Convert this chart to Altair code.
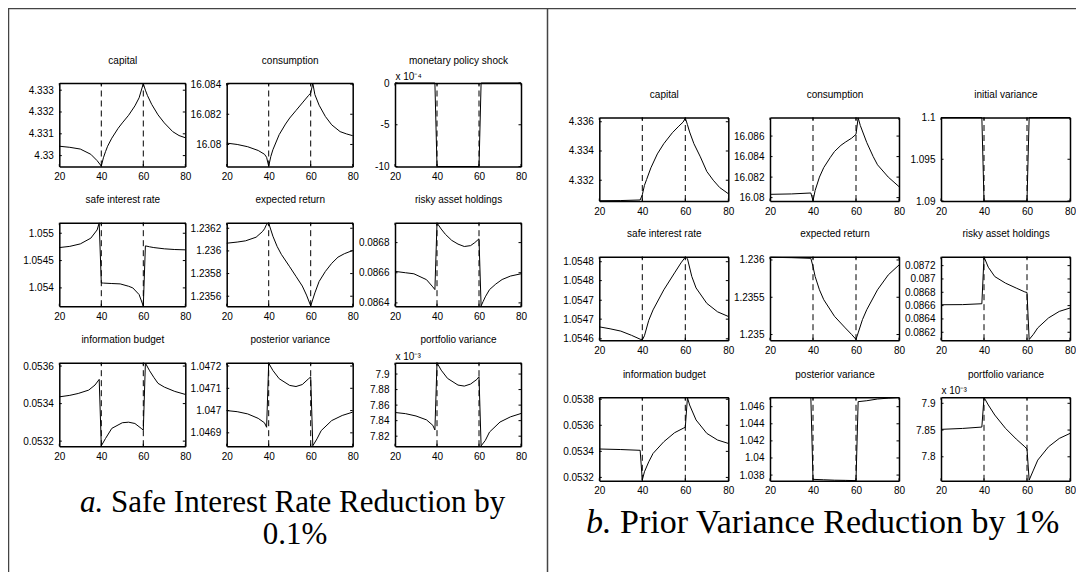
import altair as alt
import pandas as pd

# ---------------- data: panel a (safe interest rate reduction) ----------------
A_CAP_T = [20, 25, 30, 35, 38, 40, 41, 42, 43, 45, 48, 50, 53, 56, 58, 60, 61, 62, 64, 67, 70, 74, 77, 80]
A_CAP_V = [4.33043, 4.33038, 4.33030, 4.33006, 4.32977, 4.32952, 4.32990, 4.33018, 4.33043, 4.33080,
           4.33125, 4.33150, 4.33185, 4.33228, 4.33265, 4.33330, 4.33300, 4.33275, 4.33235, 4.33187,
           4.33150, 4.33110, 4.33092, 4.33082]

A_CON_T = [20, 25, 30, 35, 38, 39, 40, 41, 42, 45, 48, 50, 53, 56, 59, 60, 61, 62, 64, 67, 70, 74, 77, 80]
A_CON_V = [16.08009, 16.08000, 16.07985, 16.07960, 16.07935, 16.07915, 16.07856, 16.07920, 16.07965,
           16.08065, 16.08135, 16.08175, 16.08225, 16.08275, 16.08325, 16.08340, 16.08405, 16.08330,
           16.08260, 16.08185, 16.08130, 16.08085, 16.08070, 16.08058]

A_MPS_T = [20, 39, 40, 60, 61, 80]
A_MPS_V = [0, 0, -10, -10, 0, 0]

A_SIR_T = [20, 25, 30, 35, 38, 39, 40, 41, 45, 49, 53, 55, 58, 60, 61, 63, 65, 70, 75, 80]
A_SIR_V = [1.054738, 1.054760, 1.054805, 1.054910, 1.055060, 1.055190, 1.054091, 1.054088, 1.054080,
           1.054073, 1.054030, 1.054000, 1.053878, 1.053668, 1.054769, 1.054752, 1.054738, 1.054715,
           1.054702, 1.054696]

A_ER_T = [20, 25, 29, 34, 37, 38, 39, 40, 42, 44, 46, 50, 53, 56, 58, 60, 62, 64, 67, 70, 73, 76, 80]
A_ER_V = [1.236068, 1.236078, 1.236089, 1.236121, 1.236170, 1.236195, 1.236235, 1.236245, 1.236130,
          1.236040, 1.235970, 1.235860, 1.235775, 1.235690, 1.235610, 1.235515, 1.235630, 1.235730,
          1.235819, 1.235890, 1.235945, 1.235975, 1.236004]

A_RAH_T = [20, 25, 29, 35, 38, 39, 40, 42, 44, 47, 50, 53, 56, 58, 60, 61, 62, 63, 65, 68, 71, 75, 80]
A_RAH_V = [0.086609, 0.086600, 0.086593, 0.086554, 0.086506, 0.086488, 0.086930, 0.086890, 0.086855,
           0.086815, 0.086790, 0.086774, 0.086780, 0.086800, 0.086825, 0.086380, 0.086410, 0.086440,
           0.086488, 0.086525, 0.086555, 0.086578, 0.086593]

A_IB_T = [20, 25, 29, 34, 37, 39, 40, 42, 45, 50, 53, 56, 59, 60, 61, 63, 65, 67, 70, 75, 80]
A_IB_V = [0.053436, 0.053444, 0.053454, 0.053472, 0.053499, 0.053529, 0.053175, 0.053214, 0.053268,
          0.053298, 0.053301, 0.053294, 0.053268, 0.053259, 0.053616, 0.053575, 0.053540, 0.053508,
          0.053488, 0.053465, 0.053449]

A_PV_T = [20, 25, 30, 35, 38, 39, 40, 42, 45, 50, 53, 56, 59, 60, 61, 63, 65, 70, 75, 80]
A_PV_V = [1.047000, 1.046995, 1.046985, 1.046965, 1.046945, 1.046925, 1.047213, 1.047180, 1.047143,
          1.047113, 1.047108, 1.047117, 1.047143, 1.047151, 1.046842, 1.046873, 1.046910, 1.046955,
          1.046978, 1.046993]

A_PFV_T = [20, 25, 30, 35, 38, 39, 40, 42, 45, 50, 53, 56, 59, 60, 61, 63, 65, 70, 75, 80]
A_PFV_V = [7.8505, 7.8490, 7.8460, 7.8410, 7.8340, 7.8280, 7.9145, 7.9050, 7.8944, 7.8858, 7.8845,
           7.8871, 7.8931, 7.8966, 7.8075, 7.8145, 7.8253, 7.8382, 7.8449, 7.8492]

# ---------------- data: panel b (prior variance reduction) ----------------
B_CAP_T = [20, 30, 39, 40, 41, 42, 44, 47, 50, 54, 57, 59, 60, 61, 62, 64, 67, 70, 73, 76, 80]
B_CAP_V = [4.33060, 4.33061, 4.33065, 4.33100, 4.33165, 4.33205, 4.33285, 4.33380, 4.33450, 4.33525,
           4.33570, 4.33598, 4.33625, 4.33580, 4.33530, 4.33450, 4.33360, 4.33260, 4.33200, 4.33150,
           4.33108]

B_CON_T = [20, 30, 39, 40, 41, 43, 45, 48, 50, 53, 55, 58, 60, 61, 62, 65, 68, 70, 75, 80]
B_CON_V = [16.08032, 16.08036, 16.08045, 16.07970, 16.08070, 16.08200, 16.08293, 16.08390, 16.08450,
           16.08510, 16.08540, 16.08580, 16.08617, 16.08778, 16.08703, 16.08537, 16.08400, 16.08320,
           16.08200, 16.08107]

B_IV_T = [20, 39, 40, 60, 61, 80]
B_IV_V = [1.1, 1.1, 1.09, 1.09, 1.1, 1.1]

B_SIR_T = [20, 25, 30, 35, 39, 40, 41, 43, 45, 50, 55, 58, 60, 61, 63, 65, 70, 75, 80]
B_SIR_V = [1.054631, 1.054626, 1.054620, 1.054609, 1.054599, 1.054597, 1.054608, 1.054648, 1.054675,
           1.054727, 1.054771, 1.054797, 1.054812, 1.054808, 1.054762, 1.054732, 1.054692, 1.054670,
           1.054658]

B_ER_T = [20, 30, 39, 40, 41, 43, 45, 50, 55, 58, 60, 61, 63, 65, 70, 75, 80]
B_ER_V = [1.236036, 1.236031, 1.236022, 1.235911, 1.235778, 1.235600, 1.235467, 1.235244, 1.235089,
          1.235000, 1.234935, 1.235022, 1.235200, 1.235333, 1.235600, 1.235800, 1.235933]

B_RAH_T = [20, 30, 39, 40, 42, 45, 50, 55, 59, 60, 61, 63, 65, 70, 75, 80]
B_RAH_V = [0.086613, 0.086615, 0.086628, 0.087330, 0.087176, 0.087036, 0.086937, 0.086863, 0.086805,
           0.086797, 0.086091, 0.086170, 0.086266, 0.086415, 0.086513, 0.086564]

B_IB_T = [20, 30, 39, 40, 41, 43, 45, 50, 55, 59, 60, 61, 62, 65, 70, 75, 80]
B_IB_V = [0.053418, 0.053414, 0.053408, 0.053180, 0.053243, 0.053320, 0.053384, 0.053474, 0.053543,
          0.053577, 0.053585, 0.053812, 0.053756, 0.053641, 0.053538, 0.053487, 0.053461]

B_PV_T = [20, 39, 40, 45, 50, 55, 60, 61, 65, 70, 75, 80]
B_PV_V = [1.04708, 1.04708, 1.03750, 1.03745, 1.03740, 1.03738, 1.03735, 1.04659, 1.04670, 1.04690,
          1.04700, 1.04708]

B_PFV_T = [20, 30, 39, 40, 42, 45, 50, 55, 59, 60, 61, 63, 65, 70, 75, 80]
B_PFV_V = [7.8513, 7.8530, 7.8556, 7.9110, 7.8969, 7.8781, 7.8532, 7.8331, 7.8187, 7.8144, 7.7564,
           7.7751, 7.7938, 7.8187, 7.8343, 7.8437]

# titles, axis domains, tick values
TITLES_A = ["capital", "consumption", "monetary policy shock",
            "safe interest rate", "expected return", "risky asset holdings",
            "information budget", "posterior variance", "portfolio variance"]
TITLES_B = ["capital", "consumption", "initial variance",
            "safe interest rate", "expected return", "risky asset holdings",
            "information budget", "posterior variance", "portfolio variance"]

DOM_A = [[4.32950, 4.33333], [16.07854, 16.08407], [-10, 0],
         [1.053665, 1.055193], [1.235512, 1.236249], [0.086378, 0.086932],
         [0.053173, 0.053618], [1.04684, 1.047215], [7.8071, 7.9146]]
DOM_B = [[4.33058, 4.33629], [16.07967, 16.08781], [1.09, 1.1],
         [1.0545964, 1.054813], [1.234924, 1.236044], [0.086081, 0.087334],
         [0.053174, 0.053815], [1.03733, 1.0471], [7.7551, 7.91124]]

TICKS_A = [[4.33, 4.331, 4.332, 4.333], [16.08, 16.082, 16.084], [-10, -5, 0],
           [1.054, 1.0545, 1.055], [1.2356, 1.2358, 1.236, 1.2362], [0.0864, 0.0866, 0.0868],
           [0.0532, 0.0534, 0.0536], [1.0469, 1.047, 1.0471, 1.0472], [7.82, 7.84, 7.86, 7.88, 7.9]]
TICKS_B = [[4.332, 4.334, 4.336], [16.08, 16.082, 16.084, 16.086], [1.09, 1.095, 1.1],
           [1.0546, 1.054651, 1.0547, 1.054751, 1.0548], [1.235, 1.2355, 1.236],
           [0.0862, 0.0864, 0.0866, 0.0868, 0.087, 0.0872],
           [0.0532, 0.0534, 0.0536, 0.0538], [1.038, 1.04, 1.042, 1.044, 1.046], [7.8, 7.85, 7.9]]

EXPO_A = ["", "", "x 10\u207b\u2074", "", "", "", "", "", "x 10\u207b\u00b3"]
EXPO_B = ["", "", "", "", "", "", "", "", "x 10\u207b\u00b3"]

SERIES_A = [(A_CAP_T, A_CAP_V), (A_CON_T, A_CON_V), (A_MPS_T, A_MPS_V),
            (A_SIR_T, A_SIR_V), (A_ER_T, A_ER_V), (A_RAH_T, A_RAH_V),
            (A_IB_T, A_IB_V), (A_PV_T, A_PV_V), (A_PFV_T, A_PFV_V)]
SERIES_B = [(B_CAP_T, B_CAP_V), (B_CON_T, B_CON_V), (B_IV_T, B_IV_V),
            (B_SIR_T, B_SIR_V), (B_ER_T, B_ER_V), (B_RAH_T, B_RAH_V),
            (B_IB_T, B_IB_V), (B_PV_T, B_PV_V), (B_PFV_T, B_PFV_V)]

X_TICKS = [20, 40, 60, 80]
MARKERS = [40, 60]
CAP_A_LABEL, CAP_A_LINE1, CAP_A_LINE2 = "a.", "Safe Interest Rate Reduction by", "0.1%"
CAP_B_LABEL, CAP_B_LINE1 = "b.", "Prior Variance Reduction by 1%"

# ---------------- layout (pixels, chart coordinates) ----------------
W, H = 1068, 564
A_COLS, A_ROWS, A_W = [51.3, 218.7, 387.0], [75.0, 214.7, 354.7], 126
B_COLS, B_ROWS, B_W = [591.3, 762.0, 933.0], [109.5, 248.7, 389.3], 129
PH = 83.5
TL = 2.5  # inward tick length
SANS = "Liberation Sans"
SERIF = "Liberation Serif"


def subplot(title, t, v, dom, ticks, expo, x0, y0, w, h):
    xs = alt.Scale(domain=[20, 80], range=[x0, x0 + w], nice=False, zero=False)
    ys = alt.Scale(domain=dom, range=[y0 + h, y0], nice=False, zero=False)
    df = pd.DataFrame({"t": t, "v": v})
    yaxis = dict(orient="left", offset=-x0, values=ticks, format=".5~g",
                 labelExpr="replace(datum.label, '\u2212', '-')", labelPadding=6)
    if expo:
        yaxis.update(title=expo, titleAngle=0, titleX=0, titleY=y0 - 3.5,
                     titleAlign="left", titleBaseline="alphabetic")
    else:
        yaxis.update(title=None)
    line = alt.Chart(df).mark_line(color="black", strokeWidth=1).encode(
        x=alt.X("t:Q", scale=xs,
                axis=alt.Axis(orient="bottom", offset=y0 + h - H, values=X_TICKS,
                              title=None, labelPadding=5)),
        y=alt.Y("v:Q", scale=ys, axis=alt.Axis(**yaxis)),
    )
    rd = pd.DataFrame({"t": MARKERS, "lo": [dom[0]] * len(MARKERS), "hi": [dom[1]] * len(MARKERS)})
    rules = alt.Chart(rd).mark_rule(color="black", strokeWidth=1, strokeDash=[6, 4]).encode(
        x=alt.X("t:Q", scale=xs,
                axis=alt.Axis(orient="top", offset=-y0, labels=False, title=title,
                              titleY=-20, titleBaseline="alphabetic",
                              minExtent=0, maxExtent=0)),
        y=alt.Y("lo:Q", scale=ys,
                axis=alt.Axis(orient="right", offset=x0 + w - W, labels=False, title=None)),
        y2="hi:Q",
    )
    # inward ticks on all four sides (MATLAB box style)
    xt = pd.DataFrame({"t": X_TICKS, "lo": [dom[0]] * len(X_TICKS), "hi": [dom[1]] * len(X_TICKS)})
    yt = pd.DataFrame({"v": ticks, "xl": [20] * len(ticks), "xr": [80] * len(ticks)})
    tick_style = dict(color="black", strokeWidth=1)
    bottom = alt.Chart(xt).mark_rule(y2Offset=-TL, **tick_style).encode(
        x=alt.X("t:Q", scale=xs, axis=None), y=alt.Y("lo:Q", scale=ys, axis=None), y2="lo:Q")
    top = alt.Chart(xt).mark_rule(y2Offset=TL, **tick_style).encode(
        x=alt.X("t:Q", scale=xs, axis=None), y=alt.Y("hi:Q", scale=ys, axis=None), y2="hi:Q")
    left = alt.Chart(yt).mark_rule(x2Offset=TL, **tick_style).encode(
        x=alt.X("xl:Q", scale=xs, axis=None), x2="xl:Q", y=alt.Y("v:Q", scale=ys, axis=None))
    right = alt.Chart(yt).mark_rule(x2Offset=-TL, **tick_style).encode(
        x=alt.X("xr:Q", scale=xs, axis=None), x2="xr:Q", y=alt.Y("v:Q", scale=ys, axis=None))
    return [line, rules, bottom, top, left, right]


layers = []
for i in range(9):
    r, c = divmod(i, 3)
    t, v = SERIES_A[i]
    layers += subplot(TITLES_A[i], t, v, DOM_A[i], TICKS_A[i], EXPO_A[i],
                      A_COLS[c], A_ROWS[r], A_W, PH)
    t, v = SERIES_B[i]
    layers += subplot(TITLES_B[i], t, v, DOM_B[i], TICKS_B[i], EXPO_B[i],
                      B_COLS[c], B_ROWS[r], B_W, PH)

one = pd.DataFrame({"k": [0]})
frame_style = dict(color="#444444", strokeWidth=1.5)
layers.append(alt.Chart(one).mark_rule(**frame_style).encode(
    x=alt.value(0), x2=alt.value(W), y=alt.value(0.5)))
layers.append(alt.Chart(one).mark_rule(**frame_style).encode(
    x=alt.value(0.5), y=alt.value(0), y2=alt.value(H)))
layers.append(alt.Chart(one).mark_rule(**frame_style).encode(
    x=alt.value(539.5), y=alt.value(0), y2=alt.value(H)))


def caption(text, size, italic, align, x, y):
    style = dict(font=SERIF, fontSize=size, color="black", align=align, baseline="alphabetic")
    if italic:
        style["fontStyle"] = "italic"
    return alt.Chart(pd.DataFrame({"s": [text]})).mark_text(**style).encode(
        text="s:N", x=alt.value(x), y=alt.value(y))


layers.append(caption(CAP_A_LABEL, 31, True, "left", 72, 504))
layers.append(caption(CAP_A_LINE1, 31, False, "left", 103, 504))
layers.append(caption(CAP_A_LINE2, 31, False, "center", 287, 536))
layers.append(caption(CAP_B_LABEL, 34, True, "left", 578, 525))
layers.append(caption(CAP_B_LINE1, 34, False, "left", 612, 525))

chart = alt.layer(*layers).resolve_scale(x="independent", y="independent").properties(
    width=W, height=H, padding=0, autosize=alt.AutoSizeParams(type="none"),
).configure_view(strokeWidth=0).configure_axis(
    grid=False, ticks=False, tickSize=0, domainColor="black", domainWidth=1.5,
    labelFont=SANS, labelFontSize=10, labelColor="black", labelFlush=False, labelOverlap=False,
    titleFont=SANS, titleFontSize=10, titleFontWeight="normal", titleColor="black",
)

chart.save("out.html", embed_options={"renderer": "svg", "actions": False})
